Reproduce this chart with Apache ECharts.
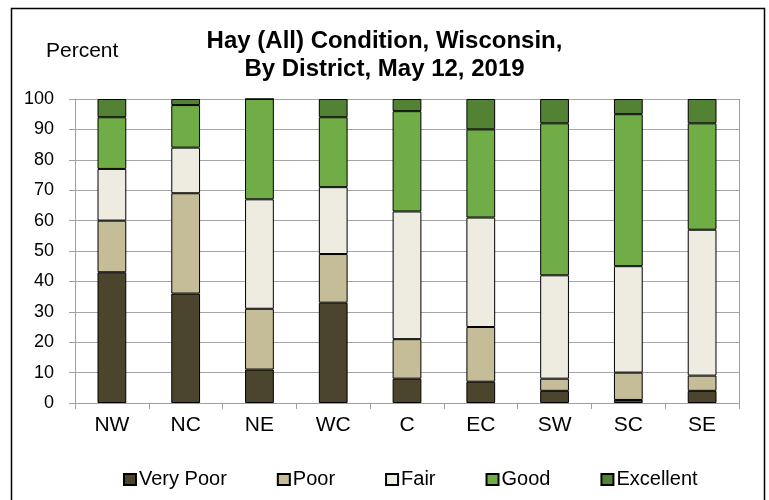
<!DOCTYPE html>
<html><head><meta charset="utf-8">
<script src="https://cdn.jsdelivr.net/npm/echarts@6/dist/echarts.min.js"></script>
<style>html,body{margin:0;padding:0;background:#fff}#c{width:769px;height:500px}</style>
</head><body><div id="c"></div>
<script>
const categories = ['NW','NC','NE','WC','C','EC','SW','SC','SE'];
const veryPoor  = [43,36,11,33, 8, 7, 4, 1, 4];
const poor      = [17,33,20,16,13,18, 4, 9, 5];
const fair      = [17,15,36,22,42,36,34,35,48];
const good      = [17,14,33,23,33,29,50,50,35];
const excellent = [ 6, 2, 0, 6, 4,10, 8, 5, 8];
const yTicks = [0,10,20,30,40,50,60,70,80,90,100];

const names = ['Very Poor','Poor','Fair','Good','Excellent'];
const colors = ['#4a452c','#c4bd97','#eeece1','#70ad47','#548235'];
const values = [veryPoor, poor, fair, good, excellent];
const font = 'Liberation Sans, Arial, sans-serif';

const chart = echarts.init(document.getElementById('c'), null, {renderer:'canvas'});
chart.setOption({
  animation:false,
  backgroundColor:'#fff',
  textStyle:{fontFamily:font},
  title:[{
    text:'Hay (All) Condition, Wisconsin,\nBy District, May 12, 2019',
    left:'center', top:22,
    textStyle:{fontFamily:font, fontWeight:'bold', fontSize:24, color:'#000', lineHeight:28}
  },{
    text:'Percent', left:41, top:36,
    textStyle:{fontFamily:font, fontWeight:'normal', fontSize:21, color:'#000'}
  }],
  graphic:[{
    type:'rect', shape:{x:11.5, y:8.5, width:753, height:500},
    style:{fill:null, stroke:'#000', lineWidth:1.5}, silent:true
  },{
    type:'line', shape:{x1:739.5,y1:99,x2:739.5,y2:403}, style:{stroke:'#a0a0a0', lineWidth:1}, silent:true
  }],
  grid:{left:75, right:30, top:99, bottom:97, containLabel:false},
  legend:{
    data:names, top:464, left:118, itemWidth:12, itemHeight:11, itemGap:50,
    icon:'rect',
    textStyle:{fontFamily:font, fontSize:20, lineHeight:21, color:'#000', padding:[0,0,0,-2]}
  },
  xAxis:{
    type:'category', data:categories,
    axisLine:{lineStyle:{color:'#a0a0a0', width:1}},
    axisTick:{show:true, length:6, lineStyle:{color:'#a0a0a0'}},
    axisLabel:{fontFamily:font, fontSize:21, color:'#000', margin:12}
  },
  yAxis:{
    type:'value', min:0, max:100, interval:10,
    axisLine:{show:true, lineStyle:{color:'#a0a0a0'}},
    axisTick:{show:true, length:6, lineStyle:{color:'#a0a0a0'}},
    axisLabel:{fontFamily:font, fontSize:18, color:'#000', margin:21,
      formatter:v=>yTicks.includes(v)?String(v):''},
    splitLine:{show:true, lineStyle:{color:'#a6a6a6', width:1}}
  },
  series: names.map((n,i)=>({
    name:n, type:'bar', stack:'all', data:values[i], barWidth:'39%',
    itemStyle:{color:colors[i], borderColor:'#000', borderWidth:1}
  }))
});
</script></body></html>
